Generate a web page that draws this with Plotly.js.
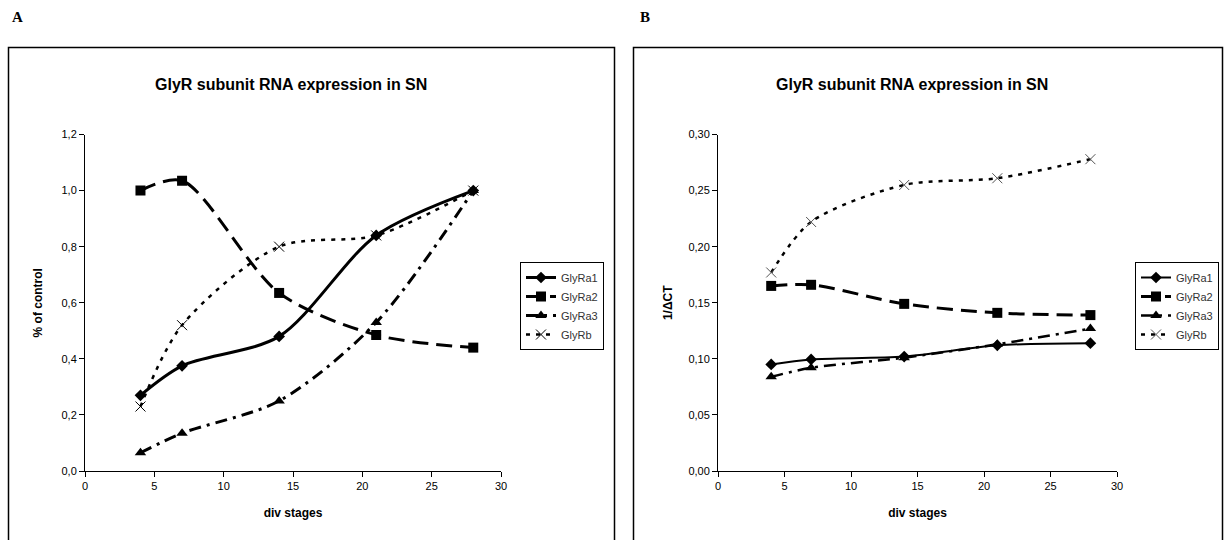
<!DOCTYPE html>
<html>
<head>
<meta charset="utf-8">
<script src="https://cdn.plot.ly/plotly-3.0.1.min.js"></script>
<style>
  html, body { margin: 0; padding: 0; background: #fff; }
  #chart { width: 1225px; height: 540px; }
</style>
</head>
<body>
<div id="chart"></div>
<script>
// Days in vitro sampled for both panels
const divStages = [4, 7, 14, 21, 28];

// Panel A: expression relative to control
const aGlyRa1 = [0.27, 0.375, 0.48, 0.84, 1.0];
const aGlyRa2 = [1.0, 1.035, 0.635, 0.485, 0.44];
const aGlyRa3 = [0.065, 0.135, 0.25, 0.53, 1.0];
const aGlyRb  = [0.23, 0.52, 0.80, 0.84, 1.0];

// Panel B: 1/ΔCT
const bGlyRa1 = [0.095, 0.0995, 0.102, 0.112, 0.114];
const bGlyRa2 = [0.165, 0.166, 0.149, 0.141, 0.139];
const bGlyRa3 = [0.084, 0.092, 0.101, 0.113, 0.127];
const bGlyRb  = [0.177, 0.222, 0.255, 0.261, 0.278];

const seriesNames = ['GlyRa1', 'GlyRa2', 'GlyRa3', 'GlyRb'];
const titleText = 'GlyR subunit RNA expression in SN';

const W = 1225, H = 540;
const px = v => v / W;          // pixel -> paper x
const py = v => 1 - v / H;      // pixel -> paper y

function styles(panel) {
  const thin = panel === 'B';
  const sm = 0.85;
  return [
    { line: { color: '#000', width: thin ? 2 : 3, dash: 'solid', shape: 'spline', smoothing: sm },
      marker: { symbol: 'diamond', size: 9, color: '#000' } },
    { line: { color: '#000', width: 3, dash: '16px,8px', shape: 'spline', smoothing: sm },
      marker: { symbol: 'square', size: 10, color: '#000' } },
    { line: { color: '#000', width: thin ? 2.5 : 3, dash: '12px,6px,3px,6px', shape: 'spline', smoothing: sm },
      marker: { symbol: 'triangle-up', size: 10, color: '#000' } },
    { line: { color: '#000', width: 2.5, dash: '4px,6px', shape: 'spline', smoothing: sm },
      marker: { symbol: 'x-thin-open', size: 10, color: thin ? '#555' : '#000', line: { width: 1, color: thin ? '#555' : '#000' } } }
  ];
}

const traces = [];
const aSeries = [aGlyRa1, aGlyRa2, aGlyRa3, aGlyRb];
const bSeries = [bGlyRa1, bGlyRa2, bGlyRa3, bGlyRb];
const sa = styles('A'), sb = styles('B');
aSeries.forEach((ys, i) => traces.push(Object.assign({
  x: divStages, y: ys, name: seriesNames[i], type: 'scatter', mode: 'lines+markers',
  xaxis: 'x', yaxis: 'y', legend: 'legend'
}, sa[i])));
bSeries.forEach((ys, i) => traces.push(Object.assign({
  x: divStages, y: ys, name: seriesNames[i], type: 'scatter', mode: 'lines+markers',
  xaxis: 'x2', yaxis: 'y2', legend: 'legend2'
}, sb[i])));

const tickFont = { family: 'Liberation Sans, Arial, sans-serif', size: 11, color: '#000' };
const axTitleFont = { family: 'Liberation Sans, Arial, sans-serif', size: 12, color: '#000', weight: 'bold' };

function xAxis(domain) {
  return {
    domain: domain, range: [0, 30], dtick: 5, tick0: 0,
    showgrid: false, zeroline: false, showline: true, linecolor: '#000', linewidth: 1,
    ticks: 'outside', ticklen: 5, tickcolor: '#000', tickfont: tickFont,
    title: { text: '<b>div stages</b>', font: axTitleFont, standoff: 17 }
  };
}
function yAxis(range, dtick, fmt, title, anchor, standoff) {
  return {
    domain: [py(471), py(134.5)], range: range, dtick: dtick, tick0: 0, tickformat: fmt,
    anchor: anchor,
    showgrid: false, zeroline: false, showline: true, linecolor: '#000', linewidth: 1,
    ticks: 'outside', ticklen: 5, tickcolor: '#000', tickfont: tickFont,
    title: { text: '<b>' + title + '</b>', font: axTitleFont, standoff: standoff }
  };
}

const legendBase = {
  bgcolor: '#fff', bordercolor: '#000', borderwidth: 1,
  font: { family: 'Liberation Sans, Arial, sans-serif', size: 11, color: '#333' },
  xanchor: 'left', yanchor: 'top', tracegroupgap: 0, itemwidth: 30
};

const layout = {
  width: W, height: H,
  margin: { l: 0, r: 0, t: 0, b: 0 },
  paper_bgcolor: '#fff', plot_bgcolor: '#fff',
  separators: ', ',
  showlegend: true,
  xaxis: Object.assign(xAxis([px(85), px(501)]), { anchor: 'y' }),
  yaxis: yAxis([0, 1.2], 0.2, '.1f', '% of control', 'x', 16),
  xaxis2: Object.assign(xAxis([px(718), px(1117)]), { anchor: 'y2' }),
  yaxis2: yAxis([0, 0.3], 0.05, '.2f', '1/ΔCT', 'x2', 13),
  legend: Object.assign({ x: px(520), y: py(262) }, legendBase),
  legend2: Object.assign({ x: px(1135), y: py(262) }, legendBase),
  shapes: [
    { type: 'rect', xref: 'paper', yref: 'paper', x0: px(8.5), x1: px(614.5), y0: py(560), y1: py(47.5),
      line: { color: '#000', width: 1.5 }, fillcolor: 'rgba(0,0,0,0)' },
    { type: 'rect', xref: 'paper', yref: 'paper', x0: px(633.5), x1: px(1222.5), y0: py(560), y1: py(47.5),
      line: { color: '#000', width: 1.5 }, fillcolor: 'rgba(0,0,0,0)' }
  ],
  annotations: [
    { text: '<b>A</b>', xref: 'paper', yref: 'paper', x: px(10), y: py(17), xanchor: 'left', yanchor: 'middle',
      showarrow: false, font: { family: 'Liberation Serif, Times New Roman, serif', size: 15, color: '#000' } },
    { text: '<b>B</b>', xref: 'paper', yref: 'paper', x: px(638), y: py(17), xanchor: 'left', yanchor: 'middle',
      showarrow: false, font: { family: 'Liberation Serif, Times New Roman, serif', size: 15, color: '#000' } },
    { text: '<b>' + titleText + '</b>', xref: 'paper', yref: 'paper', x: px(291), y: py(84), xanchor: 'center', yanchor: 'middle',
      showarrow: false, font: { family: 'Liberation Sans, Arial, sans-serif', size: 16, color: '#000' } },
    { text: '<b>' + titleText + '</b>', xref: 'paper', yref: 'paper', x: px(912), y: py(84), xanchor: 'center', yanchor: 'middle',
      showarrow: false, font: { family: 'Liberation Sans, Arial, sans-serif', size: 16, color: '#000' } }
  ]
};

Plotly.newPlot('chart', traces, layout, { displayModeBar: false, staticPlot: true });
</script>
</body>
</html>
